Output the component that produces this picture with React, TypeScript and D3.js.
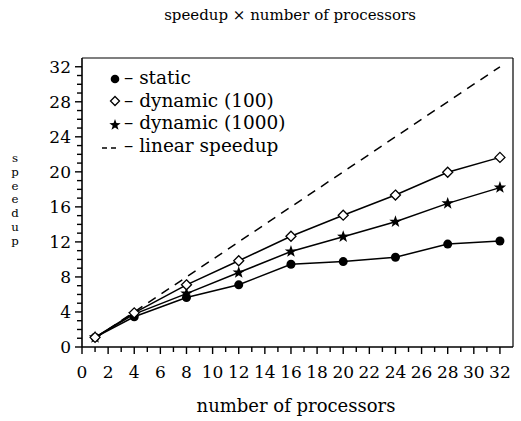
import React from "react";
import * as d3 from "d3";

const procs = [1, 4, 8, 12, 16, 20, 24, 28, 32];
const staticSpeedup = [1.1, 3.45, 5.65, 7.1, 9.45, 9.75, 10.25, 11.75, 12.1];
const dyn100Speedup = [1.1, 3.9, 7.1, 9.85, 12.65, 15.05, 17.35, 19.95, 21.65];
const dyn1000Speedup = [1.1, 3.75, 6.1, 8.5, 10.9, 12.6, 14.3, 16.4, 18.2];
const linearX = [1, 32];
const xTickLabels = d3.range(0, 33, 2);
const yTickLabels = d3.range(0, 33, 4);
const legendLabels = ["– static", "– dynamic (100)", "– dynamic (1000)", "– linear speedup"];
const titleText = "speedup × number of processors";
const xLabel = "number of processors";
const yLabel = "speedup";

const FONT = "'DejaVu Serif', serif";

const starPath = (cx: number, cy: number, R: number, r: number) => {
  const pts: [number, number][] = [];
  for (let i = 0; i < 10; i++) {
    const a = -Math.PI / 2 + (i * Math.PI) / 5;
    const rad = i % 2 === 0 ? R : r;
    pts.push([cx + rad * Math.cos(a), cy + rad * Math.sin(a)]);
  }
  return "M" + pts.map((p) => p.join(",")).join("L") + "Z";
};

const diamondPath = (cx: number, cy: number, h: number) =>
  `M${cx},${cy - h}L${cx + h},${cy}L${cx},${cy + h}L${cx - h},${cy}Z`;

export default function App() {
  const W = 521;
  const H = 421;
  const x = d3.scaleLinear().domain([0, 33]).range([82, 513]);
  const y = d3.scaleLinear().domain([0, 33]).range([347, 58]);
  const line = d3
    .line<[number, number]>()
    .x((d) => x(d[0]))
    .y((d) => y(d[1]));

  const series = [staticSpeedup, dyn100Speedup, dyn1000Speedup];
  const minor = d3.range(0, 33, 1);

  return (
    <svg
      width={W}
      height={H}
      style={{ position: "absolute", left: 0, top: 0, background: "#fff" }}
      fontFamily={FONT}
    >
      <rect width={W} height={H} fill="#fff" />
      {/* title */}
      <text x={290} y={20} textAnchor="middle" fontSize={15}>
        {titleText}
      </text>
      {/* frame */}
      <line x1={x(0)} x2={x(33)} y1={y(33)} y2={y(33)} stroke="#000" strokeWidth={1.2} />
      <line x1={x(33)} x2={x(33)} y1={y(33)} y2={y(0)} stroke="#000" strokeWidth={1.2} />
      <line x1={x(0)} x2={x(33)} y1={y(0)} y2={y(0)} stroke="#000" strokeWidth={1.6} />
      <line x1={x(0)} x2={x(0)} y1={y(33)} y2={y(0)} stroke="#000" strokeWidth={1.6} />
      {/* x ticks */}
      {minor.map((t) => (
        <line
          key={"xt" + t}
          x1={x(t)}
          x2={x(t)}
          y1={y(0)}
          y2={y(0) + (t % 2 === 0 ? 7 : 5)}
          stroke="#000"
          strokeWidth={1.4}
        />
      ))}
      {xTickLabels.map((t) => (
        <text key={"xl" + t} x={x(t)} y={378} textAnchor="middle" fontSize={17}>
          {t}
        </text>
      ))}
      {/* y ticks */}
      {minor.map((t) => (
        <line
          key={"yt" + t}
          x1={x(0) - (t % 4 === 0 ? 7 : 5)}
          x2={x(0)}
          y1={y(t)}
          y2={y(t)}
          stroke="#000"
          strokeWidth={1.4}
        />
      ))}
      {yTickLabels.map((t) => (
        <text key={"yl" + t} x={71} y={y(t) + 6} textAnchor="end" fontSize={17}>
          {t}
        </text>
      ))}
      {/* axis labels */}
      <text x={296} y={412} textAnchor="middle" fontSize={18}>
        {xLabel}
      </text>
      {yLabel.split("").map((c, i) => (
        <text key={"yc" + i} x={15} y={162 + i * 13.8} textAnchor="middle" fontSize={11.8}>
          {c}
        </text>
      ))}
      {/* linear speedup */}
      <path
        d={line(linearX.map((v) => [v, v] as [number, number])) || ""}
        fill="none"
        stroke="#000"
        strokeWidth={1.5}
        strokeDasharray="9,7"
      />
      {/* series lines */}
      {series.map((s, si) => (
        <path
          key={"ln" + si}
          d={line(procs.map((p, i) => [p, s[i]] as [number, number])) || ""}
          fill="none"
          stroke="#000"
          strokeWidth={1.5}
        />
      ))}
      {/* markers */}
      {procs.map((p, i) => (
        <circle key={"c" + i} cx={x(p)} cy={y(staticSpeedup[i])} r={4.5} fill="#000" />
      ))}
      {procs.map((p, i) => (
        <path
          key={"st" + i}
          d={starPath(x(p), y(dyn1000Speedup[i]), 6.5, 2.6)}
          fill="#000"
        />
      ))}
      {procs.map((p, i) => (
        <path
          key={"d" + i}
          d={diamondPath(x(p), y(dyn100Speedup[i]), 5)}
          fill="#fff"
          stroke="#000"
          strokeWidth={1.3}
        />
      ))}
      {/* legend */}
      <circle cx={115} cy={79} r={4.3} fill="#000" />
      <path d={diamondPath(115, 101, 4.5)} fill="#fff" stroke="#000" strokeWidth={1.3} />
      <path d={starPath(115, 125, 6, 2.4)} fill="#000" />
      <line x1={102} x2={120} y1={148} y2={148} stroke="#000" strokeWidth={1.5} strokeDasharray="5,4" />
      {legendLabels.map((l, i) => (
        <text key={"lg" + i} x={124} y={84 + i * 22.7} fontSize={18.5}>
          {l}
        </text>
      ))}
    </svg>
  );
}
